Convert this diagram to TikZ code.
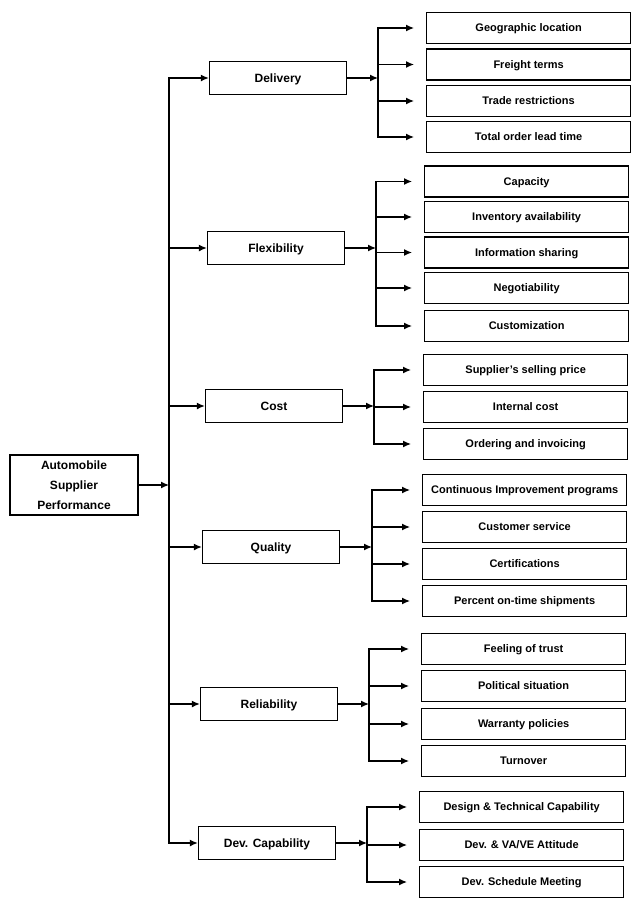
\documentclass[tikz,border=0pt]{standalone}
\usepackage{fontspec}
\setmainfont{Liberation Sans}
\usetikzlibrary{arrows.meta}

\begin{document}
\begin{tikzpicture}[x=1pt, y=-1pt, line width=1.3pt,
  box/.style={draw, line width=1.3pt, inner sep=2pt},
  rootbox/.style={box, minimum width=128pt, minimum height=60pt, align=center, font=\fontsize{12}{20}\selectfont\bfseries},
  catbox/.style={box, minimum width=137pt, minimum height=33pt, text height=9.5pt, text depth=1.5pt, font=\fontsize{12}{14}\selectfont\bfseries},
  leafbox/.style={box, anchor=west, minimum width=204pt, minimum height=31pt, text height=9pt, text depth=1.5pt, font=\fontsize{11}{13}\selectfont\bfseries},
  arr/.style={-{Latex[length=8pt,width=7pt]}}]
  \useasboundingbox (0,0) rectangle (630,898);
  % 뿌리
  \node[rootbox] (asp) at (74,485) {Automobile\\Supplier\\Performance};
  \coordinate (tr) at (169,485);
  % 여섯 가지 기준
  \node[catbox] (del) at (278,78) {Delivery};
  \node[catbox] (flx) at (276,248) {Flexibility};
  \node[catbox] (cst) at (274,406) {Cost};
  \node[catbox] (qua) at (271,547) {Quality};
  \node[catbox] (rel) at (269,704) {Reliability};
  \node[catbox] (dev) at (267,843) {Dev. Capability};
  \coordinate (jdel) at (378,78);
  \coordinate (jflx) at (376,248);
  \coordinate (jcst) at (374,406);
  \coordinate (jqua) at (372,547);
  \coordinate (jrel) at (369,704);
  \coordinate (jdev) at (367,843);
  % 세부 항목
  \node[leafbox] (del1) at (426,28) {Geographic location};
  \node[leafbox] (del2) at (426,64.5) {Freight terms};
  \node[leafbox] (del3) at (426,101) {Trade restrictions};
  \node[leafbox] (del4) at (426,137) {Total order lead time};
  \node[leafbox] (flx1) at (424,181.5) {Capacity};
  \node[leafbox] (flx2) at (424,217) {Inventory availability};
  \node[leafbox] (flx3) at (424,252.5) {Information sharing};
  \node[leafbox] (flx4) at (424,288) {Negotiability};
  \node[leafbox] (flx5) at (424,326) {Customization};
  \node[leafbox] (cst1) at (423,370) {Supplier's selling price};
  \node[leafbox] (cst2) at (423,407) {Internal cost};
  \node[leafbox] (cst3) at (423,444) {Ordering and invoicing};
  \node[leafbox] (qua1) at (422,490) {Continuous Improvement programs};
  \node[leafbox] (qua2) at (422,527) {Customer service};
  \node[leafbox] (qua3) at (422,564) {Certifications};
  \node[leafbox] (qua4) at (422,601) {Percent on-time shipments};
  \node[leafbox] (rel1) at (421,649) {Feeling of trust};
  \node[leafbox] (rel2) at (421,686) {Political situation};
  \node[leafbox] (rel3) at (421,724) {Warranty policies};
  \node[leafbox] (rel4) at (421,761) {Turnover};
  \node[leafbox] (dev1) at (419,807) {Design \& Technical Capability};
  \node[leafbox] (dev2) at (419,845) {Dev. \& VA/VE Attitude};
  \node[leafbox] (dev3) at (419,882) {Dev. Schedule Meeting};
  % 줄기
  \draw[arr] (asp.east) -- (tr);
  \draw[arr] (tr) |- (del.west);
  \draw[arr] (tr) |- (flx.west);
  \draw[arr] (tr) |- (cst.west);
  \draw[arr] (tr) |- (qua.west);
  \draw[arr] (tr) |- (rel.west);
  \draw[arr] (tr) |- (dev.west);
  \draw[arr] (del.east) -- (jdel);
  \draw[arr] (flx.east) -- (jflx);
  \draw[arr] (cst.east) -- (jcst);
  \draw[arr] (qua.east) -- (jqua);
  \draw[arr] (rel.east) -- (jrel);
  \draw[arr] (dev.east) -- (jdev);
  % 가지
  \draw[arr, shorten >=12pt] (jdel) |- (del1.west);
  \draw[arr, shorten >=12pt] (jdel) |- (del2.west);
  \draw[arr, shorten >=12pt] (jdel) |- (del3.west);
  \draw[arr, shorten >=12pt] (jdel) |- (del4.west);
  \draw[arr, shorten >=12pt] (jflx) |- (flx1.west);
  \draw[arr, shorten >=12pt] (jflx) |- (flx2.west);
  \draw[arr, shorten >=12pt] (jflx) |- (flx3.west);
  \draw[arr, shorten >=12pt] (jflx) |- (flx4.west);
  \draw[arr, shorten >=12pt] (jflx) |- (flx5.west);
  \draw[arr, shorten >=12pt] (jcst) |- (cst1.west);
  \draw[arr, shorten >=12pt] (jcst) |- (cst2.west);
  \draw[arr, shorten >=12pt] (jcst) |- (cst3.west);
  \draw[arr, shorten >=12pt] (jqua) |- (qua1.west);
  \draw[arr, shorten >=12pt] (jqua) |- (qua2.west);
  \draw[arr, shorten >=12pt] (jqua) |- (qua3.west);
  \draw[arr, shorten >=12pt] (jqua) |- (qua4.west);
  \draw[arr, shorten >=12pt] (jrel) |- (rel1.west);
  \draw[arr, shorten >=12pt] (jrel) |- (rel2.west);
  \draw[arr, shorten >=12pt] (jrel) |- (rel3.west);
  \draw[arr, shorten >=12pt] (jrel) |- (rel4.west);
  \draw[arr, shorten >=12pt] (jdev) |- (dev1.west);
  \draw[arr, shorten >=12pt] (jdev) |- (dev2.west);
  \draw[arr, shorten >=12pt] (jdev) |- (dev3.west);
\end{tikzpicture}
\end{document}
